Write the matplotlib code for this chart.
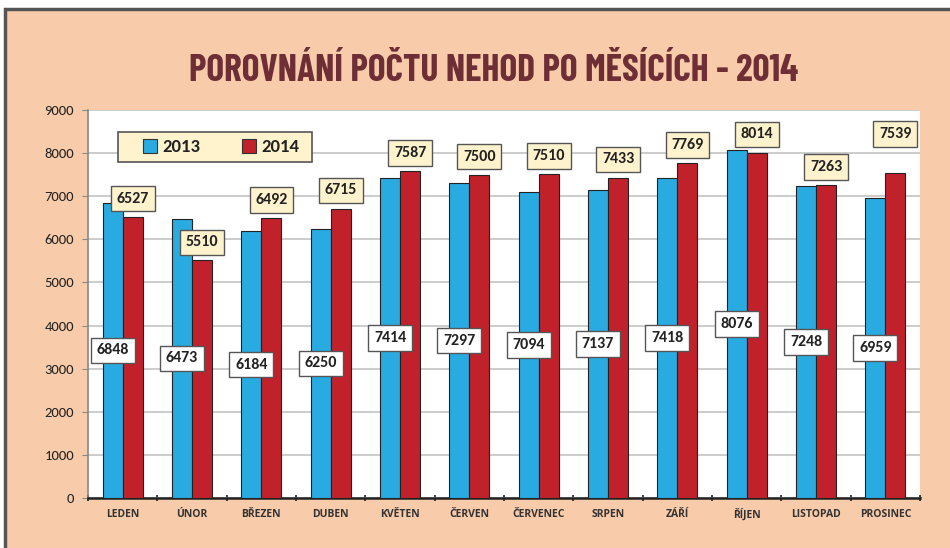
import matplotlib
matplotlib.use("Agg")
import matplotlib.pyplot as plt
import numpy as np
from matplotlib.patches import Rectangle

months = ["LEDEN", "ÚNOR", "BŘEZEN", "DUBEN", "KVĚTEN", "ČERVEN", "ČERVENEC",
          "SRPEN", "ZÁŘÍ", "ŘÍJEN", "LISTOPAD", "PROSINEC"]
v2013 = [6848, 6473, 6184, 6250, 7414, 7297, 7094, 7137, 7418, 8076, 7248, 6959]
v2014 = [6527, 5510, 6492, 6715, 7587, 7500, 7510, 7433, 7769, 8014, 7263, 7539]
series_names = ["2013", "2014"]
title = "POROVNÁNÍ POČTU NEHOD PO MĚSÍCÍCH - 2014"

BG = "#F8CCAA"
BLUE = "#29ABE2"
RED = "#C1212A"
CREAM = "#FFF3CE"
TITLE_C = "#6E2E36"
NUMF = ["Carlito", "DejaVu Sans"]

fig = plt.figure(figsize=(9.5, 5.48), dpi=100)
fig.patch.set_facecolor("white")
fig.patches.append(Rectangle((5/950, -0.01), 1.0, 1.01 - 9/548, transform=fig.transFigure,
                             facecolor=BG, edgecolor="#555555", linewidth=2.5, zorder=-5))

ax = fig.add_axes([88/950, 50/548, 832/950, 388/548])
ax.set_zorder(2)
ax.set_facecolor("white")
x = np.arange(len(months))
w = 0.29
ax.bar(x - w/2, v2013, w, color=BLUE, edgecolor="#222222", linewidth=0.8,
       label=series_names[0], zorder=3)
ax.bar(x + w/2, v2014, w, color=RED, edgecolor="#222222", linewidth=0.8,
       label=series_names[1], zorder=3)

ax.set_xlim(-0.5, len(months) - 0.5)
ax.set_ylim(0, 9000)
ax.set_yticks(np.arange(0, 9001, 1000))
ax.yaxis.grid(True, color="#C4C4C4", linewidth=1.2, zorder=0)
ax.set_axisbelow(True)
ax.set_xticks(x)
ax.set_xticklabels(months, fontsize=7.5, fontweight="bold", color="#333333",
                   family=["Open Sans", "DejaVu Sans"])
for t in ax.get_xticklabels():
    t.set_verticalalignment("baseline")
ax.set_xticks(np.arange(-0.5, len(months), 1), minor=True)
ax.tick_params(axis="x", which="major", length=0, pad=14)
ax.tick_params(axis="x", which="minor", length=5, width=1.2, color="#222222", direction="inout")
ax.tick_params(axis="y", labelsize=10.5, colors="#222222", length=4, color="#888888", pad=6)
for t in ax.get_yticklabels():
    t.set_family(NUMF)
for s in ["top", "right"]:
    ax.spines[s].set_visible(False)
ax.spines["left"].set_color("#888888")
ax.spines["left"].set_linewidth(1.2)
ax.spines["bottom"].set_color("#222222")
ax.spines["bottom"].set_linewidth(1.8)

for i, v in enumerate(v2013):
    ax.annotate(f"{v}", (x[i] - w/2, v/2), ha="center", va="center",
                fontsize=11.5, fontweight="bold", color="#222222", zorder=5, family=NUMF,
                bbox=dict(boxstyle="square,pad=0.36", facecolor="white",
                          edgecolor="#555555", linewidth=1))
for i, v in enumerate(v2014):
    off = 13 if i < len(v2014) - 1 else 28
    ax.annotate(f"{v}", (x[i] + w/2, v), xytext=(0, off), textcoords="offset points",
                ha="center", va="center",
                fontsize=11.5, fontweight="bold", color="#222222", zorder=5, family=NUMF,
                bbox=dict(boxstyle="square,pad=0.36", facecolor=CREAM,
                          edgecolor="#555555", linewidth=1))

# legend box
ax.add_patch(Rectangle(((118-88)/832, (498-162)/388), 194/832, 30/388,
                       transform=ax.transAxes, facecolor=CREAM, edgecolor="#555555",
                       linewidth=1.2, zorder=6))
leg = ax.legend(loc="center", bbox_to_anchor=((221-88)/832, (498-147)/388), ncol=2,
                frameon=False, prop={"weight": "bold", "size": 13.5, "family": NUMF},
                handlelength=0.75, handleheight=0.75, handletextpad=0.3,
                columnspacing=2.2, borderpad=0, borderaxespad=0)
leg.set_zorder(7)
for t in leg.get_texts():
    t.set_color("#222222")
for h in leg.legend_handles:
    h.set_edgecolor("#333333")

fig.text(494/950, 1 - 71/548, title, ha="center", va="center",
         fontsize=27, fontweight="bold", color=TITLE_C,
         family=["Barlow Condensed", "Asap Condensed", "DejaVu Sans"])

fig.savefig("out.png", dpi=100)
